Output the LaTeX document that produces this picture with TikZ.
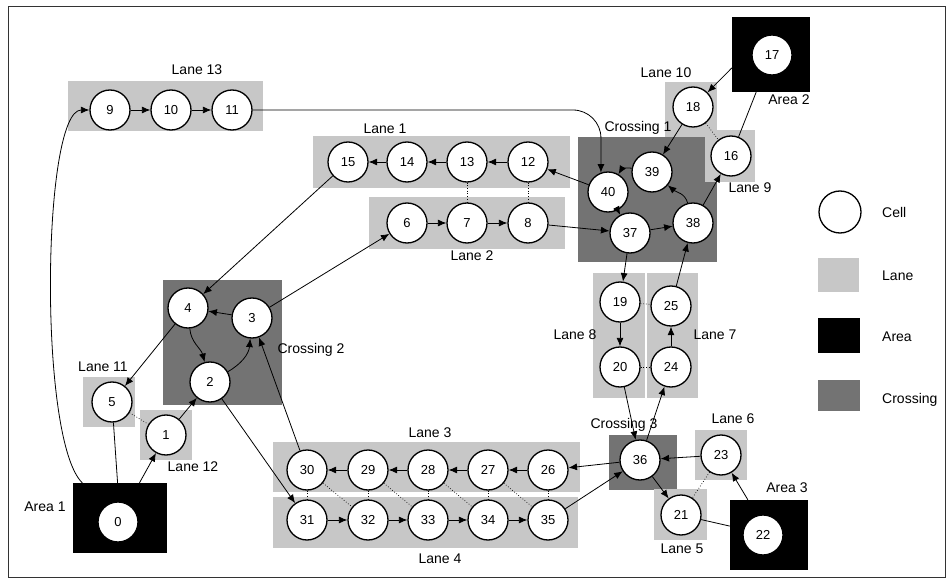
\documentclass[tikz,border=0pt]{standalone}
\usepackage{fontspec}
\setmainfont{Liberation Sans}
\usetikzlibrary{arrows.meta}
\tikzset{
  cell/.style ={circle, draw=black, line width=1.3pt, fill=white, minimum size=40pt, inner sep=0pt, font=\fontsize{13}{15}\selectfont},
  lane/.style ={fill=black!22, inner sep=0pt},
  cross/.style={fill=black!55, inner sep=0pt},
  area/.style ={fill=black, inner sep=0pt},
  lab/.style  ={inner sep=0pt},
  edge/.style ={-{Latex[length=8.5pt,width=7pt]}, line width=0.8pt},
  plain/.style={line width=0.8pt},
  nb/.style   ={dotted, line width=0.7pt},
  frame/.style={draw=black!80, line width=1pt},
}

\begin{document}
\begin{tikzpicture}[x=1pt, y=-1pt, font=\fontsize{14}{16}\selectfont]
  \useasboundingbox (0,0) rectangle (948,580);
  \draw[frame] (8,7) rectangle (945,577);

  % lanes, crossings and areas
  \node[lane, minimum width=195pt, minimum height=50pt] (L13) at (165.5,106) {};
  \node[lane, minimum width=257pt, minimum height=52pt] (L1) at (441.5,162) {};
  \node[lane, minimum width=196pt, minimum height=52pt] (L2) at (467,223) {};
  \node[cross, minimum width=139pt, minimum height=125pt] (X1) at (647.5,199.5) {};
  \node[lane, minimum width=52pt, minimum height=55pt] (L10) at (691,109.5) {};
  \node[lane, minimum width=50pt, minimum height=52pt] (L9) at (730,156) {};
  \node[area, minimum width=78pt, minimum height=75pt] (A2) at (771,54.5) {};
  \node[lane, minimum width=52pt, minimum height=125pt] (L8) at (619,335.5) {};
  \node[lane, minimum width=51pt, minimum height=125pt] (L7) at (672.5,335.5) {};
  \node[cross, minimum width=68pt, minimum height=55pt] (X3) at (643,462.5) {};
  \node[lane, minimum width=52pt, minimum height=50pt] (L6) at (721,455) {};
  \node[lane, minimum width=53pt, minimum height=51pt] (L5) at (680.5,514.5) {};
  \node[area, minimum width=78pt, minimum height=70pt] (A3) at (769,535) {};
  \node[lane, minimum width=307pt, minimum height=50pt] (L3) at (426.5,467) {};
  \node[lane, minimum width=305pt, minimum height=51pt] (L4) at (425.5,522.5) {};
  \node[cross, minimum width=119pt, minimum height=125pt] (X2) at (222.5,342.5) {};
  \node[lane, minimum width=52pt, minimum height=50pt] (L11) at (109,402) {};
  \node[lane, minimum width=52pt, minimum height=50pt] (L12) at (166,435) {};
  \node[area, minimum width=94pt, minimum height=70pt] (A1) at (120,518) {};

  % labels
  \node[lab] (tL13) at (197,70) {Lane 13};
  \node[lab] (tL1) at (385,129) {Lane 1};
  \node[lab] (tL2) at (472,256) {Lane 2};
  \node[lab] (tX1) at (638,128) {Crossing 1};
  \node[lab] (tL10) at (666,73) {Lane 10};
  \node[lab] (tA2) at (789,100) {Area 2};
  \node[lab] (tL9) at (750,188) {Lane 9};
  \node[lab] (tL8) at (575,335) {Lane 8};
  \node[lab] (tL7) at (715,335) {Lane 7};
  \node[lab] (tX3) at (624,425) {Crossing 3};
  \node[lab] (tL6) at (733,419) {Lane 6};
  \node[lab] (tL5) at (682,549) {Lane 5};
  \node[lab] (tA3) at (787,488) {Area 3};
  \node[lab] (tL3) at (430,433) {Lane 3};
  \node[lab] (tL4) at (440,559) {Lane 4};
  \node[lab] (tX2) at (311,350) {Crossing 2};
  \node[lab] (tL11) at (103,367) {Lane 11};
  \node[lab] (tL12) at (193,467) {Lane 12};
  \node[lab] (tA1) at (45,507) {Area 1};

  % cells
  \node[cell] (c0) at (118,522) {0};
  \node[cell] (c1) at (166,435) {1};
  \node[cell] (c2) at (210,382) {2};
  \node[cell] (c3) at (252,318) {3};
  \node[cell] (c4) at (188,308) {4};
  \node[cell] (c5) at (112,402) {5};
  \node[cell] (c6) at (407,223) {6};
  \node[cell] (c7) at (467,223) {7};
  \node[cell] (c8) at (528,223) {8};
  \node[cell] (c9) at (110,110) {9};
  \node[cell] (c10) at (171,110) {10};
  \node[cell] (c11) at (232,110) {11};
  \node[cell] (c12) at (528,162) {12};
  \node[cell] (c13) at (467,162) {13};
  \node[cell] (c14) at (407,162) {14};
  \node[cell] (c15) at (348,162) {15};
  \node[cell] (c16) at (731,156) {16};
  \node[cell] (c17) at (772,55) {17};
  \node[cell] (c18) at (693,107) {18};
  \node[cell] (c19) at (620,302) {19};
  \node[cell] (c20) at (620,367) {20};
  \node[cell] (c21) at (681,515) {21};
  \node[cell] (c22) at (763,535) {22};
  \node[cell] (c23) at (721,455) {23};
  \node[cell] (c24) at (671,367) {24};
  \node[cell] (c25) at (671,306) {25};
  \node[cell] (c26) at (548,470) {26};
  \node[cell] (c27) at (488,470) {27};
  \node[cell] (c28) at (428,470) {28};
  \node[cell] (c29) at (368,470) {29};
  \node[cell] (c30) at (307,470) {30};
  \node[cell] (c31) at (307,520) {31};
  \node[cell] (c32) at (368,520) {32};
  \node[cell] (c33) at (428,520) {33};
  \node[cell] (c34) at (488,520) {34};
  \node[cell] (c35) at (548,520) {35};
  \node[cell] (c36) at (640,460) {36};
  \node[cell] (c37) at (630,233) {37};
  \node[cell] (c38) at (693,223) {38};
  \node[cell] (c39) at (652,172) {39};
  \node[cell] (c40) at (608,192) {40};

  % neighbour links
  \draw[nb] (c13) -- (c7);
  \draw[nb] (c12) -- (c8);
  \draw[nb] (c19) -- (c25);
  \draw[nb] (c20) -- (c24);
  \draw[nb] (c23) -- (c21);
  \draw[nb] (c5) -- (c1);
  \draw[nb] (c18) -- (c16);
  \draw[nb] (c30) -- (c31);
  \draw[nb] (c30) -- (c32);
  \draw[nb] (c29) -- (c32);
  \draw[nb] (c29) -- (c33);
  \draw[nb] (c28) -- (c33);
  \draw[nb] (c28) -- (c34);
  \draw[nb] (c27) -- (c34);
  \draw[nb] (c27) -- (c35);
  \draw[nb] (c26) -- (c35);

  % lanes
  \draw[edge] (c9) -- (c10);
  \draw[edge] (c10) -- (c11);
  \draw[edge] (c12) -- (c13);
  \draw[edge] (c13) -- (c14);
  \draw[edge] (c14) -- (c15);
  \draw[edge] (c6) -- (c7);
  \draw[edge] (c7) -- (c8);
  \draw[edge] (c26) -- (c27);
  \draw[edge] (c27) -- (c28);
  \draw[edge] (c28) -- (c29);
  \draw[edge] (c29) -- (c30);
  \draw[edge] (c31) -- (c32);
  \draw[edge] (c32) -- (c33);
  \draw[edge] (c33) -- (c34);
  \draw[edge] (c34) -- (c35);
  \draw[edge] (c19) -- (c20);
  \draw[edge] (c24) -- (c25);

  % crossing 1
  \draw[edge] (c40) -- (c37);
  \draw[edge] (c37) -- (c38);
  \draw[edge] (c38) to[out=105,in=-40] (c39);
  \draw[edge] (c39) to[bend right=35] (c40);
  \draw[edge] (c38) -- (c16);
  \draw[edge] (c18) -- (c39);
  \draw[edge] (c40) -- (c12);

  % crossing 2
  \draw[edge] (c3) -- (c4);
  \draw[edge] (c4) to[out=-85,in=105] (c2);
  \draw[edge] (c2) to[out=30,in=-95] (c3);
  \draw[edge] (c4) -- (c5);
  \draw[edge] (c1) -- (c2);

  % crossing 3
  \draw[edge] (c20) -- (c36);
  \draw[edge] (c36) -- (c24);
  \draw[edge] (c36) -- (c26);
  \draw[edge] (c35) -- (c36);
  \draw[edge] (c36) -- (c21);
  \draw[edge] (c23) -- (c36);

  % between lanes
  \draw[edge] (c15) -- (c4);
  \draw[edge] (c3) -- (c6);
  \draw[edge] (c8) -- (c37);
  \draw[edge] (c37) -- (c19);
  \draw[edge] (c25) -- (c38);
  \draw[edge] (c30) -- (c3);
  \draw[edge] (c2) -- (c31);
  \draw[edge, rounded corners=28pt] (c11) -| (c40.110);

  % areas
  \draw[edge] (A1.137) .. controls (38,440) and (42,110) .. (c9);
  \draw[edge] (A1) -- (c1);
  \draw[plain] (c5) -- (A1);
  \draw[edge] (A2.199) -- (c18);
  \draw[plain] (c16) -- (A2);
  \draw[edge] (A3) -- (c23);
  \draw[plain] (c21) -- (A3);

  % legend
  \node[cell, minimum size=42pt] (kcell) at (840,212) {};
  \node[lane, minimum width=41pt, minimum height=34pt] (klane) at (838.5,275) {};
  \node[area, minimum width=42pt, minimum height=35pt] (karea) at (839,335.5) {};
  \node[cross, minimum width=42pt, minimum height=31pt] (kcross) at (839,395.5) {};
  \node[lab, anchor=west] (tcell) at (882,212) {Cell};
  \node[lab, anchor=west] (tlane) at (882,276) {Lane};
  \node[lab, anchor=west] (tarea) at (882,337) {Area};
  \node[lab, anchor=west] (tcross) at (882,400) {Crossing};
\end{tikzpicture}
\end{document}
